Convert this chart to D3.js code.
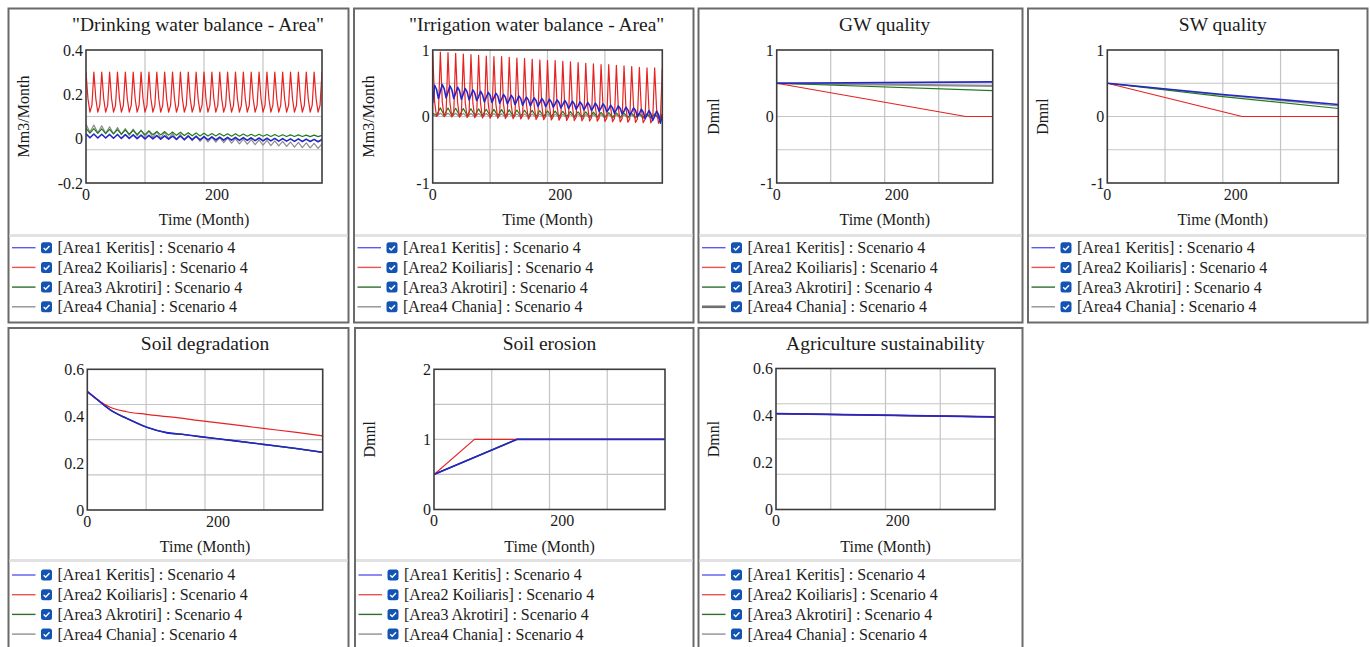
<!DOCTYPE html>
<html><head><meta charset="utf-8">
<script src="https://cdn.jsdelivr.net/npm/d3@7"></script>
<style>
html,body{margin:0;padding:0;background:#fff;}
svg{display:block;font-family:"Liberation Serif","Times New Roman",serif;}
</style></head><body>
<svg id="fig" width="1370" height="647"></svg>
<script>
// ---------------- data ----------------
const areaNames = [
  "[Area1 Keritis] : Scenario 4",
  "[Area2 Koiliaris] : Scenario 4",
  "[Area3 Akrotiri] : Scenario 4",
  "[Area4 Chania] : Scenario 4"
];
const xTickLabels = [0, 200];
const months3 = d3.range(0, 361, 3);   // every 3 months, 0..360
const months6 = d3.range(0, 361, 6);   // every 6 months, 0..360

// Drinking water balance - Area (Mm3/Month)
const drinkRed = [
  0.30,0.18,0.12,0.15, 0.30,0.18,0.12,0.15, 0.30,0.18,0.12,0.15,
  0.30,0.18,0.12,0.15, 0.30,0.18,0.12,0.15, 0.30,0.18,0.12,0.15,
  0.30,0.18,0.12,0.15, 0.30,0.18,0.12,0.15, 0.30,0.18,0.12,0.15,
  0.30,0.18,0.12,0.15, 0.30,0.18,0.12,0.15, 0.30,0.18,0.12,0.15,
  0.30,0.18,0.12,0.15, 0.30,0.18,0.12,0.15, 0.30,0.18,0.12,0.15,
  0.30,0.18,0.12,0.15, 0.30,0.18,0.12,0.15, 0.30,0.18,0.12,0.15,
  0.30,0.18,0.12,0.15, 0.30,0.18,0.12,0.15, 0.30,0.18,0.12,0.15,
  0.30,0.18,0.12,0.15, 0.30,0.18,0.12,0.15, 0.30,0.18,0.12,0.15,
  0.30,0.18,0.12,0.15, 0.30,0.18,0.12,0.15, 0.30,0.18,0.12,0.15,
  0.30,0.18,0.12,0.15, 0.30,0.18,0.12,0.15, 0.30,0.18,0.12,0.15,
  0.30
];
const drinkBlue = [
  0.022,0.004,0.021,0.003,0.020,0.003,0.019,0.002,0.019,0.001,
  0.018,0.001,0.017,0.000,0.016,-0.001,0.015,-0.001,0.014,-0.002,
  0.013,-0.002,0.012,-0.003,0.012,-0.004,0.011,-0.004,0.010,-0.005,
  0.009,-0.005,0.008,-0.006,0.007,-0.007,0.006,-0.007,0.006,-0.008,
  0.005,-0.008,0.004,-0.009,0.003,-0.010,0.002,-0.010,0.001,-0.011,
  0.000,-0.011,-0.001,-0.012,-0.001,-0.013,-0.002,-0.013,-0.003,-0.014,
  -0.004
];
const drinkGreen = [
  0.047,0.025,0.045,0.024,0.044,0.023,0.042,0.022,0.041,0.021,
  0.039,0.020,0.038,0.019,0.036,0.018,0.035,0.018,0.033,0.017,
  0.032,0.016,0.030,0.015,0.029,0.014,0.027,0.013,0.026,0.012,
  0.024,0.012,0.023,0.012,0.023,0.012,0.022,0.011,0.022,0.011,
  0.021,0.011,0.020,0.011,0.020,0.011,0.019,0.010,0.019,0.010,
  0.018,0.010,0.017,0.010,0.017,0.010,0.016,0.009,0.016,0.009,
  0.015
];
const drinkGray = [
  0.065,0.030,0.061,0.027,0.058,0.024,0.054,0.021,0.050,0.018,
  0.046,0.015,0.043,0.012,0.039,0.009,0.035,0.006,0.031,0.003,
  0.028,0.000,0.024,-0.003,0.020,-0.006,0.016,-0.009,0.013,-0.012,
  0.009,-0.014,0.007,-0.016,0.005,-0.018,0.003,-0.020,0.000,-0.023,
  -0.002,-0.025,-0.004,-0.027,-0.006,-0.029,-0.008,-0.031,-0.010,-0.033,
  -0.012,-0.035,-0.015,-0.038,-0.017,-0.040,-0.019,-0.042,-0.021,-0.044,
  -0.023
];

// Irrigation water balance - Area (Mm3/Month)
const irrRed = [
  0.97,0.22,0.000,0.050,  0.97,0.22,-0.003,0.047, 0.96,0.21,-0.007,0.043,
  0.95,0.21,-0.010,0.040, 0.94,0.21,-0.014,0.036, 0.93,0.20,-0.017,0.033,
  0.92,0.20,-0.020,0.030, 0.91,0.20,-0.024,0.026, 0.90,0.19,-0.027,0.023,
  0.90,0.19,-0.031,0.019, 0.89,0.19,-0.034,0.016, 0.88,0.18,-0.037,0.013,
  0.87,0.18,-0.041,0.009, 0.86,0.18,-0.044,0.006, 0.85,0.17,-0.048,0.002,
  0.84,0.17,-0.051,-0.001,0.84,0.16,-0.054,-0.004,0.83,0.16,-0.058,-0.008,
  0.82,0.16,-0.061,-0.011,0.81,0.15,-0.065,-0.015,0.80,0.15,-0.068,-0.018,
  0.79,0.15,-0.071,-0.021,0.78,0.14,-0.075,-0.025,0.78,0.14,-0.078,-0.028,
  0.77,0.14,-0.082,-0.032,0.76,0.13,-0.085,-0.035,0.75,0.13,-0.088,-0.038,
  0.74,0.13,-0.092,-0.042,0.73,0.12,-0.095,-0.045,0.73,0.12,-0.099,-0.049,
  0.72
];
const irrBlue = [
  0.20,0.47,0.41,0.27, 0.38,0.48,0.42,0.28, 0.37,0.46,0.40,0.27,
  0.35,0.44,0.39,0.26, 0.34,0.42,0.37,0.25, 0.32,0.40,0.35,0.24,
  0.30,0.38,0.33,0.22, 0.29,0.36,0.32,0.21, 0.28,0.35,0.31,0.20,
  0.26,0.33,0.29,0.19, 0.25,0.32,0.28,0.18, 0.24,0.31,0.27,0.17,
  0.23,0.29,0.25,0.16, 0.22,0.28,0.24,0.15, 0.21,0.27,0.23,0.15,
  0.20,0.26,0.22,0.14, 0.19,0.25,0.21,0.13, 0.18,0.24,0.20,0.12,
  0.17,0.23,0.19,0.11, 0.16,0.22,0.18,0.10, 0.15,0.21,0.17,0.09,
  0.14,0.20,0.16,0.08, 0.13,0.19,0.15,0.07, 0.11,0.17,0.13,0.05,
  0.10,0.16,0.12,0.04, 0.08,0.14,0.10,0.02, 0.07,0.13,0.09,0.00,
  0.04,0.11,0.07,-0.03, 0.02,0.09,0.04,-0.06, 0.00,0.08,0.03,-0.10,
  0.02
];
const irrGreen = [
  0.050,0.020,0.130,0.019,0.127,0.018,0.123,0.016,0.120,0.015,
  0.117,0.014,0.114,0.013,0.110,0.012,0.107,0.010,0.104,0.009,
  0.100,0.008,0.097,0.007,0.094,0.006,0.091,0.004,0.087,0.003,
  0.084,0.002,0.081,0.001,0.078,-0.001,0.074,-0.002,0.071,-0.003,
  0.068,-0.004,0.064,-0.005,0.061,-0.007,0.058,-0.008,0.055,-0.009,
  0.051,-0.010,0.048,-0.011,0.045,-0.013,0.041,-0.014,0.038,-0.015,
  0.035
];
const irrGray = [
  0.020,0.000,0.050,-0.001,0.049,-0.002,0.048,-0.003,0.047,-0.004,
  0.046,-0.005,0.045,-0.006,0.044,-0.007,0.043,-0.008,0.042,-0.009,
  0.041,-0.010,0.040,-0.011,0.039,-0.012,0.038,-0.013,0.037,-0.014,
  0.036,-0.015,0.035,-0.016,0.034,-0.017,0.033,-0.018,0.032,-0.019,
  0.031,-0.020,0.030,-0.021,0.029,-0.022,0.028,-0.023,0.027,-0.024,
  0.026,-0.025,0.025,-0.026,0.024,-0.027,0.023,-0.028,0.022,-0.029,
  0.021
];

// GW quality (Dmnl)
const gwMonths = [0, 360];
const gwBlue = [0.50, 0.52];
const gwGreen = [0.50, 0.39];
const gwGray = [0.50, 0.46];
const gwRedMonths = [0, 315, 360];
const gwRed = [0.50, 0.00, 0.00];

// SW quality (Dmnl)
const swMonths = [0, 180, 360];
const swBlue = [0.50, 0.33, 0.18];
const swGreen = [0.50, 0.30, 0.12];
const swGray = [0.50, 0.32, 0.16];
const swRedMonths = [0, 210, 360];
const swRed = [0.50, 0.00, 0.00];

// Soil degradation
const soilDegRedMonths = [0, 20, 35, 60, 90, 130, 172, 220, 269, 320, 360];
const soilDegRed = [0.505, 0.462, 0.438, 0.419, 0.408, 0.396, 0.381, 0.365, 0.348, 0.331, 0.316];
const soilDegMonths = [0, 20, 35, 60, 91, 121, 150, 172, 220, 269, 320, 360];
const soilDegBlue = [0.505, 0.460, 0.427, 0.391, 0.353, 0.330, 0.321, 0.313, 0.297, 0.280, 0.262, 0.246];
const soilDegGreen = [0.505, 0.460, 0.427, 0.391, 0.353, 0.330, 0.321, 0.313, 0.297, 0.280, 0.262, 0.246];
const soilDegGray = [0.505, 0.460, 0.427, 0.391, 0.353, 0.330, 0.321, 0.313, 0.297, 0.280, 0.262, 0.246];

// Soil erosion (Dmnl)
const erosionRedMonths = [0, 63, 360];
const erosionRed = [0.5, 1.0, 1.0];
const erosionMonths = [0, 129, 360];
const erosionBlue = [0.5, 1.0, 1.0];
const erosionGreen = [0.5, 1.0, 1.0];
const erosionGray = [0.5, 1.0, 1.0];

// Agriculture sustainability (Dmnl)
const agriMonths = [0, 360];
const agriBlue = [0.408, 0.394];
const agriRed = [0.408, 0.394];
const agriGreen = [0.408, 0.394];
const agriGray = [0.408, 0.394];

// ---------------- chart definitions ----------------
const charts = [
  { title: "\"Drinking water balance - Area\"", yTitle: "Mm3/Month", yDomain: [-0.2, 0.4],
    yTicks: [0.4, 0.2, 0, -0.2], yTickText: ["0.4", "0.2", "0", "-0.2"],
    series: [[months6, drinkBlue], [months3, drinkRed], [months6, drinkGreen], [months6, drinkGray]] },
  { title: "\"Irrigation water balance - Area\"", yTitle: "Mm3/Month", yDomain: [-1, 1],
    yTicks: [1, 0, -1], yTickText: ["1", "0", "-1"],
    series: [[months3, irrBlue], [months3, irrRed], [months6, irrGreen], [months6, irrGray]] },
  { title: "GW quality", yTitle: "Dmnl", yDomain: [-1, 1],
    yTicks: [1, 0, -1], yTickText: ["1", "0", "-1"],
    series: [[gwMonths, gwBlue], [gwRedMonths, gwRed], [gwMonths, gwGreen], [gwMonths, gwGray]] },
  { title: "SW quality", yTitle: "Dmnl", yDomain: [-1, 1],
    yTicks: [1, 0, -1], yTickText: ["1", "0", "-1"],
    series: [[swMonths, swBlue], [swRedMonths, swRed], [swMonths, swGreen], [swMonths, swGray]] },
  { title: "Soil degradation", yTitle: null, yDomain: [0, 0.6],
    yTicks: [0.6, 0.4, 0.2, 0], yTickText: ["0.6", "0.4", "0.2", "0"], smooth: true,
    series: [[soilDegMonths, soilDegBlue], [soilDegRedMonths, soilDegRed], [soilDegMonths, soilDegGreen], [soilDegMonths, soilDegGray]] },
  { title: "Soil erosion", yTitle: "Dmnl", yDomain: [0, 2],
    yTicks: [2, 1, 0], yTickText: ["2", "1", "0"],
    series: [[erosionMonths, erosionBlue], [erosionRedMonths, erosionRed], [erosionMonths, erosionGreen], [erosionMonths, erosionGray]] },
  { title: "Agriculture sustainability", yTitle: "Dmnl", yDomain: [0, 0.6],
    yTicks: [0.6, 0.4, 0.2, 0], yTickText: ["0.6", "0.4", "0.2", "0"],
    series: [[agriMonths, agriBlue], [agriMonths, agriRed], [agriMonths, agriGreen], [agriMonths, agriGray]] }
];

// ---------------- layout & styling ----------------
const frames = [
  { box: [8.5, 8.5, 348.5, 322.5],    plot: [86, 50, 322, 183],        row: 0 },
  { box: [354, 8.5, 693.5, 322.5],    plot: [432.7, 50, 662.3, 183],   row: 0 },
  { box: [698.5, 8.5, 1022.5, 322.5], plot: [776.7, 50, 992.7, 183],   row: 0 },
  { box: [1028, 8.5, 1367.5, 322.5],  plot: [1107.3, 50, 1338.3, 183], row: 0 },
  { box: [8.5, 328, 348.5, 660],      plot: [87.3, 369.3, 322.7, 510], row: 1 },
  { box: [355, 328, 693.5, 660],      plot: [434, 369.3, 665, 509.5],  row: 1 },
  { box: [698.5, 328, 1022.5, 660],   plot: [776, 368.5, 995, 509.5],  row: 1 }
];
const rowStyle = [
  { titleY: 31, sepY: 235.5, legendY: 247.7 },
  { titleY: 350, sepY: 560.5, legendY: 575 }
];
const lineColors = ["#2525c8", "#e62222", "#1f7a1f", "#8c8c8c"];
const legendColors = ["#5a5aee", "#ee5050", "#2e6e2e", "#909090"];
const drawOrder = [3, 2, 1, 0];

const svg = d3.select("#fig");
const textColor = "#1b1b1b";

charts.forEach((c, ci) => {
  const f = frames[ci];
  const rs = rowStyle[f.row];
  const [bx0, by0, bx1, by1] = f.box;
  const [px0, py0, px1, py1] = f.plot;
  const g = svg.append("g");

  // panel frame
  g.append("rect").attr("x", bx0).attr("y", by0)
    .attr("width", bx1 - bx0).attr("height", by1 - by0)
    .attr("fill", "#fff").attr("stroke", "#6a6a6a").attr("stroke-width", 2);

  const x = d3.scaleLinear().domain([0, 360]).range([px0, px1]);
  const y = d3.scaleLinear().domain(c.yDomain).range([py1, py0]);

  // grid: quarters of each axis
  const yGrid = d3.range(1, 4).map(i => c.yDomain[0] + i * (c.yDomain[1] - c.yDomain[0]) / 4);
  const xGrid = [90, 180, 270];
  g.selectAll(".gy").data(yGrid).enter().append("line")
    .attr("x1", px0).attr("x2", px1).attr("y1", d => y(d)).attr("y2", d => y(d))
    .attr("stroke", "#c4c4c4").attr("stroke-width", 1.2);
  g.selectAll(".gx").data(xGrid).enter().append("line")
    .attr("y1", py0).attr("y2", py1).attr("x1", d => x(d)).attr("x2", d => x(d))
    .attr("stroke", "#c4c4c4").attr("stroke-width", 1.2);

  // series
  const clipId = "clip" + ci;
  g.append("clipPath").attr("id", clipId).append("rect")
    .attr("x", px0).attr("y", py0 - 1).attr("width", px1 - px0).attr("height", py1 - py0 + 2);
  const line = d3.line().x(d => x(d[0])).y(d => y(d[1]))
    .curve(c.smooth ? d3.curveMonotoneX : d3.curveLinear);
  drawOrder.forEach(si => {
    const [ms, vs] = c.series[si];
    const pts = ms.map((m, i) => [m, vs[i]]);
    g.append("path").attr("d", line(pts)).attr("clip-path", `url(#${clipId})`)
      .attr("fill", "none").attr("stroke", lineColors[si])
      .attr("stroke-width", si === 0 ? 1.6 : (si === 3 && ci === 2 ? 2.2 : 1.2))
      .attr("stroke-linejoin", "round");
  });

  // plot frame
  g.append("rect").attr("x", px0).attr("y", py0)
    .attr("width", px1 - px0).attr("height", py1 - py0)
    .attr("fill", "none").attr("stroke", "#3c3c3c").attr("stroke-width", 1.6);

  // y tick labels
  g.selectAll(".yt").data(c.yTicks).enter().append("text")
    .attr("x", px0 - 3).attr("y", d => y(d)).attr("dy", "0.36em")
    .attr("text-anchor", "end").attr("font-size", 16).attr("fill", textColor)
    .text((d, i) => c.yTickText[i]);

  // x tick labels
  g.selectAll(".xt").data(xTickLabels).enter().append("text")
    .attr("x", d => x(d)).attr("y", py1 + 16.5)
    .attr("text-anchor", "middle").attr("font-size", 16).attr("fill", textColor)
    .text(d => d);

  // axis titles
  g.append("text").attr("x", (px0 + px1) / 2).attr("y", py1 + 42)
    .attr("text-anchor", "middle").attr("font-size", 16).attr("fill", textColor)
    .text("Time (Month)");
  if (c.yTitle) {
    g.append("text")
      .attr("transform", `translate(${bx0 + 14.5},${(py0 + py1) / 2}) rotate(-90)`)
      .attr("dy", "0.35em").attr("text-anchor", "middle")
      .attr("font-size", 16).attr("fill", textColor).text(c.yTitle);
  }

  // chart title: centred over plot, kept within the plot's right edge
  const t = g.append("text").attr("y", rs.titleY).attr("text-anchor", "middle")
    .attr("font-size", 19.5).attr("fill", textColor).text(c.title);
  const tw = t.node().getComputedTextLength();
  t.attr("x", Math.min((px0 + px1) / 2, px1 + 2 - tw / 2));

  // legend
  g.append("line").attr("x1", bx0 + 1).attr("x2", bx1 - 1)
    .attr("y1", rs.sepY).attr("y2", rs.sepY)
    .attr("stroke", "#e2e2e2").attr("stroke-width", 3);
  areaNames.forEach((name, i) => {
    const ly = rs.legendY + i * 19.7;
    g.append("line").attr("x1", bx0 + 3.5).attr("x2", bx0 + 27)
      .attr("y1", ly).attr("y2", ly)
      .attr("stroke", (i === 3 && ci === 2) ? "#6e6e6e" : legendColors[i])
      .attr("stroke-width", (i === 3 && ci === 2) ? 2.6 : 1.4);
    const cx = bx0 + 32.5, cy = ly - 5.5;
    g.append("rect").attr("x", cx).attr("y", cy).attr("width", 11).attr("height", 11)
      .attr("rx", 2.5).attr("fill", "#1353b4");
    g.append("path")
      .attr("d", `M${cx + 2.7},${cy + 5.7} L${cx + 4.7},${cy + 7.7} L${cx + 8.5},${cy + 3.7}`)
      .attr("fill", "none").attr("stroke", "#fff").attr("stroke-width", 1.4);
    g.append("text").attr("x", bx0 + 49).attr("y", ly).attr("dy", "0.34em")
      .attr("font-size", 16).attr("fill", textColor).text(name);
  });
});
</script>
</body></html>
